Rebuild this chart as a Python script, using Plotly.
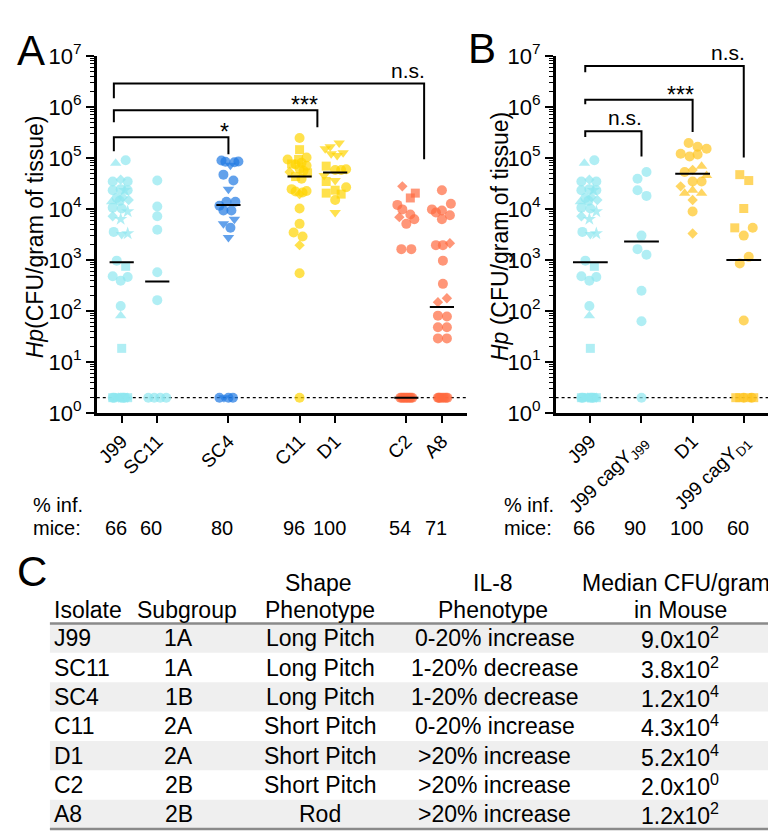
import math
import plotly.graph_objects as go

W, H = 776, 836
FONT = "Liberation Sans, Arial, sans-serif"

CYAN = "#8FE7EF"
BLUE = "#2079E3"
YEL = "#FFD400"
RED = "#FF6A3F"
GOLD = "#FFC41F"

# ---------------- Panel A data ----------------
catsA = ["J99", "SC11", "SC4", "C11", "D1", "C2", "A8"]
slotsA = [0, 1, 3, 5, 6, 8, 9]
medianA = [900, 380, 12000, 43000, 52000, 2, 120]
infA = [66, 60, 80, 96, 100, 54, 71]

j99_vals = [79000, 90000, 34500, 37500, 34500, 23300, 24400, 23300, 23300, 16400,
            17000, 13800, 15000, 14400, 10600, 10200, 8900, 7200, 6300, 3550,
            3150, 3300, 970, 750, 480, 390, 465, 125, 81, 18.5] + [2] * 15
j99_sym = list("tccdcccsc" "cdtdccc" "sdscvs" "cqcccctq" "ctdtcqctdctqcdt")
j99_jit = [-0.6, 0.4, -0.9, -0.1, 0.6, -0.9, -0.1, 0.3, 0.6, -0.5, 0.1, -1.0, 0.7, -0.2,
           -0.9, 0.0, 0.6, -0.9, -0.1, -0.8, 0.0, 0.6, -0.5, 0.4, -0.9, -0.1, 0.6, -0.1,
           -0.1, 0.0,
           -0.9, -0.6, -0.3, 0.0, 0.3, 0.6, -0.75, -0.45, -0.15, 0.15, 0.45, -0.9, 0.0, 0.6, -0.3]

sc11_vals = [36000, 11200, 7200, 3900, 575, 163, 2, 2, 2, 2]
sc11_sym = list("cccccccccc")
sc11_jit = [0, 0, 0, 0, 0, 0, -0.9, -0.3, 0.3, 0.9]

sc4_vals = [89000, 84000, 72000, 82000, 85000, 47000, 36000, 24400, 13800, 13800, 11500,
            9300, 9300, 6300, 5100, 4260, 2760, 2, 2, 2, 2, 2]
sc4_sym = list("ccvcccc" "vccccc" "vvc" "vcvcc")
sc4_jit = [-0.7, -0.3, 0.2, 0.6, 1.0, -0.5, 0.5, 0.0, -0.2, 0.7, -0.9, -0.5, 0.3, 0.6,
           -0.5, 0.2, 0.0, -0.9, -0.45, 0.0, 0.45, 0.9]

c11_vals = [245000, 145000, 93000, 102000, 93000, 76000, 74000, 80000, 70000, 61000,
            53000, 51000, 56000, 43000, 39000, 24400, 22000, 19500, 21000, 22500,
            10200, 5100, 3450, 2880, 1950, 550, 2]
c11_sym = list("cqccq" "qccc" "cdqc" "qc" "ccdcc" "ccccd" "cc")
c11_jit = [0.0, 0.0, -1.2, 0.7, -0.1, -0.8, -0.4, 0.2, 0.7, 0.0, -1.0, 0.8, 0.4, -0.4,
           0.2, -0.8, -0.4, 0.0, 0.3, 0.7, 0.0, 0.0, -0.6, 0.3, 0.0, 0.0, 0.0]

d1_vals = [196000, 151000, 165000, 121000, 112000, 126000, 69000, 45000, 58000, 58000,
           60000, 34500, 36000, 26500, 20400, 23300, 19500, 15000, 8500]
d1_sym = list("vvvvvv" "qvccc" "qvc" "qqq" "cv")
d1_jit = [0.4, -1.0, -0.5, -0.4, 0.2, 0.8, -0.9, -1.1, 0.0, 0.6, 1.1, -0.9, 0.0, 1.1,
          -0.9, 0.0, 0.6, 0.0, 0.0]

c2_vals = [27700, 16400, 20400, 12000, 9800, 6900, 7800, 6300, 5100, 1630, 1630] + [2] * 9
c2_sym = list("dqqccdcccc" "c" "ccccccccc")
c2_jit = [-0.4, 0.4, 0.9, -0.9, -0.4, -0.7, 0.4, 0.8, 0.0, -0.5, 0.5,
          -0.6, -0.45, -0.3, -0.15, 0.0, 0.15, 0.3, 0.45, 0.6]

a8_vals = [23300, 9800, 12600, 8500, 9300, 7500, 6300, 1950, 1950, 2130, 970, 340, 149,
           178, 81, 78, 48, 48, 29, 29] + [2] * 7
a8_sym = list("ccccccc" "ccd" "cc" "dd" "cccccc" "ccccccc")
a8_jit = [0.0, -1.0, 0.9, -0.6, 0.0, 0.8, 0.0, -0.6, 0.1, 0.8, 0.1, 0.1, -0.4, 0.5,
          -0.4, 0.5, -0.4, 0.5, -0.4, 0.5,
          -0.4, -0.2, 0.0, 0.2, 0.4, 0.55, -0.3]

# ---------------- Panel B data ----------------
catsB = ["J99", "J99 cagY<sub>J99</sub>", "D1", "J99 cagY<sub>D1</sub>"]
slotsB = [0, 1, 2, 3]
medianB = [900, 2300, 49000, 1000]
infB = [66, 90, 100, 60]

cj_vals = [53000, 39000, 23300, 18000, 3000, 1630, 1260, 250, 63, 2]
cj_sym = list("cccccccccc")
cj_jit = [0.5, -0.4, -0.4, 0.5, 0.0, -0.4, 0.5, 0.0, 0.0, 0.0]

d1b_vals = [196000, 121000, 107000, 165000, 151000, 117000, 69000, 58000, 53000, 45000,
            34500, 34500, 27700, 23300, 20400, 20400, 15000, 8900, 3300]
d1b_sym = list("cccccc" "tdct" "cc" "dttt" "dcd")
d1b_jit = [-0.4, -1.2, -0.3, 0.5, 1.4, 0.5, 0.9, 0.0, -0.8, 1.4, 0.0, 0.9, -1.2, 0.0,
           -0.8, 0.9, 0.0, 0.0, 0.0]

cd_vals = [47000, 36000, 10200, 4260, 4260, 3000, 1150, 850, 65, 2, 2, 2, 2, 2, 2]
cd_sym = list("qqqqc" "cccc" "qqcqcq")
cd_jit = [-0.4, 0.5, 0.0, -0.9, 0.9, 0.0, 0.5, -0.4, 0.0, -0.8, -0.4, 0.0, 0.4, 0.8, 1.0]

LIMIT = 2

# brackets: (x_left, x_right, log_top, log_left_end, log_right_end, label)
bracketsA = [(-0.22, 3.0, 5.405, 5.13, 5.07, "*"),
             (-0.22, 5.5, 5.935, 5.70, 5.60, "***"),
             (-0.22, 8.5, 6.457, 6.17, 4.975, "n.s.")]
bracketsB = [(-0.1, 1.0, 5.524, 5.41, 5.03, "n.s."),
             (-0.1, 2.0, 6.14, 6.05, 5.51, "***"),
             (-0.1, 3.0, 6.80, 6.68, 5.01, "n.s.")]

# ---------------- Panel C table ----------------
t_isolate = ["J99", "SC11", "SC4", "C11", "D1", "C2", "A8"]
t_subgroup = ["1A", "1A", "1B", "2A", "2A", "2B", "2B"]
t_shape = ["Long Pitch", "Long Pitch", "Long Pitch", "Short Pitch", "Short Pitch",
           "Short Pitch", "Rod"]
t_il8 = ["0-20% increase", "1-20% decrease", "1-20% decrease", "0-20% increase",
         ">20% increase", ">20% increase", ">20% increase"]
t_median = [900, 380, 12000, 43000, 52000, 2, 120]

# ================= layout helpers =================
def PX(x):
    return x / W


def PY(y):
    return 1 - y / H


A_L, A_R = 87, 458
B_L, B_R = 547, 770
Y_T, Y_B = 33, 403
xrA = [-0.7, 9.7]
xrB = [-0.68, 3.67]
ppuA = (A_R - A_L) / (xrA[1] - xrA[0])
ppuB = (B_R - B_L) / (xrB[1] - xrB[0])
JIT_PX = 10.0

SYM = {"c": "circle", "q": "square", "t": "triangle-up", "v": "triangle-down",
       "d": "diamond", "s": "star"}
SIZE = {"c": 10, "q": 9, "t": 10, "v": 10, "d": 8, "s": 10}

fig = go.Figure()


def add_group(xax, yax, slot, vals, syms, jits, color, ppu):
    xs = [slot + j * JIT_PX / ppu for j in jits]
    fig.add_trace(go.Scatter(
        x=xs, y=vals, mode="markers", xaxis=xax, yaxis=yax, cliponaxis=False,
        marker=dict(symbol=[SYM[s] for s in syms], size=[SIZE[s] for s in syms],
                    color=color, line=dict(width=0)),
        hoverinfo="skip"))


def add_line(xax, yax, xs, ys, width=2, dash="solid"):
    fig.add_trace(go.Scatter(x=xs, y=ys, mode="lines", xaxis=xax, yaxis=yax,
                             cliponaxis=False,
                             line=dict(color="black", width=width, dash=dash),
                             hoverinfo="skip"))


# detection limit lines
add_line("x", "y", xrA, [LIMIT, LIMIT], width=1.3, dash="dot")
add_line("x2", "y2", xrB, [LIMIT, LIMIT], width=1.3, dash="dot")

groupsA = [(j99_vals, j99_sym, j99_jit, CYAN), (sc11_vals, sc11_sym, sc11_jit, CYAN),
           (sc4_vals, sc4_sym, sc4_jit, BLUE), (c11_vals, c11_sym, c11_jit, YEL),
           (d1_vals, d1_sym, d1_jit, YEL), (c2_vals, c2_sym, c2_jit, RED),
           (a8_vals, a8_sym, a8_jit, RED)]
for slot, (v, s, j, col) in zip(slotsA, groupsA):
    add_group("x", "y", slot, v, s, j, col, ppuA)

groupsB = [(j99_vals, j99_sym, j99_jit, CYAN), (cj_vals, cj_sym, cj_jit, CYAN),
           (d1b_vals, d1b_sym, d1b_jit, GOLD), (cd_vals, cd_sym, cd_jit, GOLD)]
for slot, (v, s, j, col) in zip(slotsB, groupsB):
    add_group("x2", "y2", slot, v, s, j, col, ppuB)

MED_HALF = 0.34
for slot, m in zip(slotsA, medianA):
    add_line("x", "y", [slot - MED_HALF, slot + MED_HALF], [m, m], width=2)
for slot, m in zip(slotsB, medianB):
    add_line("x2", "y2", [slot - MED_HALF, slot + MED_HALF], [m, m], width=2)

annotations = []


def add_brackets(brs, xax, yax):
    for xl, xr, yt, yl, yr, lab in brs:
        add_line(xax, yax, [xl, xl, xr, xr],
                 [10 ** yl, 10 ** yt, 10 ** yt, 10 ** yr], width=2)
        star = lab.startswith("*")
        annotations.append(dict(
            x=xr, y=yt, xref=xax, yref=yax, text=lab, showarrow=False,
            xanchor="right", yanchor="bottom", xshift=3,
            yshift=-10 if star else 0,
            font=dict(size=23 if star else 21, family=FONT, color="black")))


add_brackets(bracketsA, "x", "y")
add_brackets(bracketsB, "x2", "y2")

# axis titles
for xc, txt in [(25, "<i>Hp</i>(CFU/gram of tissue)"),
                (492, "<i>Hp</i> (CFU/gram of tissue)")]:
    annotations.append(dict(x=PX(xc), y=PY(220), xref="paper", yref="paper",
                            text=txt, textangle=-90, showarrow=False,
                            xanchor="center", yanchor="middle",
                            font=dict(size=23, family=FONT, color="black")))

# panel letters
for lx, ly, t in [(21, 27, "A"), (473, 25, "B"), (22, 567, "C")]:
    annotations.append(dict(x=PX(lx), y=PY(ly), xref="paper", yref="paper", text=t,
                            showarrow=False, xanchor="center", yanchor="middle",
                            font=dict(size=42, family=FONT, color="black")))

# % infected rows
for lx in [21, 493]:
    annotations.append(dict(x=PX(lx), y=PY(498), xref="paper", yref="paper",
                            text="% inf.", showarrow=False, xanchor="left",
                            yanchor="middle", font=dict(size=20, family=FONT, color="black")))
    annotations.append(dict(x=PX(lx), y=PY(522), xref="paper", yref="paper",
                            text="mice:", showarrow=False, xanchor="left",
                            yanchor="middle", font=dict(size=20, family=FONT, color="black")))
for xax, slots, infs in [("x", slotsA, infA), ("x2", slotsB, infB)]:
    for s, v in zip(slots, infs):
        annotations.append(dict(x=s, y=PY(522), xref=xax, yref="paper", text=str(v),
                                showarrow=False, xanchor="center", yanchor="middle",
                                xshift=-6,
                                font=dict(size=20, family=FONT, color="black")))

# ---------------- table ----------------
shapes = []
T_TOP, T_BOT, T_L, T_R = 621, 834, 40, 772
row_h = (T_BOT - T_TOP) / len(t_isolate)
for i in range(len(t_isolate)):
    if i % 2 == 0:
        shapes.append(dict(type="rect", xref="paper", yref="paper",
                           x0=PX(T_L), x1=PX(T_R), y0=PY(T_TOP + i * row_h),
                           y1=PY(T_TOP + (i + 1) * row_h),
                           fillcolor="#EFEFEF", line=dict(width=0), layer="below"))
for yy in [T_TOP, T_BOT]:
    shapes.append(dict(type="line", xref="paper", yref="paper", x0=PX(T_L), x1=PX(T_R),
                       y0=PY(yy), y1=PY(yy), line=dict(color="#8A8A8A", width=2.5)))

TF = 23


def tab_text(x, y, txt, anchor="center"):
    annotations.append(dict(x=PX(x), y=PY(y), xref="paper", yref="paper", text=txt,
                            showarrow=False, xanchor=anchor, yanchor="middle",
                            font=dict(size=TF, family=FONT, color="black")))


tab_text(42, 607, "Isolate", "left")
tab_text(177, 607, "Subgroup")
tab_text(309, 579, "Shape")
tab_text(311, 607, "Phenotype")
tab_text(484, 579, "IL-8")
tab_text(484, 607, "Phenotype")
tab_text(668, 579, "Median CFU/gram")
tab_text(672, 607, "in Mouse")


def sci(v):
    e = int(math.floor(math.log10(v)))
    m = v / 10 ** e
    return f"{m:.1f}x10<sup>{e}</sup>"


for i in range(len(t_isolate)):
    yc = T_TOP + (i + 0.5) * row_h
    tab_text(42, yc, t_isolate[i], "left")
    tab_text(169, yc, t_subgroup[i])
    tab_text(311, yc, t_shape[i])
    tab_text(486, yc, t_il8[i])
    tab_text(672, yc, sci(t_median[i]))

# ---------------- axes ----------------
majors = [10 ** k for k in range(8)]
major_txt = [f"10<sup>{k}</sup>" for k in range(8)]
minors = [m * 10 ** k for k in range(7) for m in range(2, 10)]

yax = dict(type="log", range=[0, 7], domain=[PY(Y_B), PY(Y_T)], tickmode="array",
           tickvals=majors, ticktext=major_txt, ticks="outside", ticklen=8, tickwidth=2,
           tickcolor="black", showline=True, linewidth=2.5, linecolor="black",
           showgrid=False, zeroline=False,
           tickfont=dict(size=22, family=FONT, color="black"),
           minor=dict(tickmode="array", tickvals=minors, ticks="outside", ticklen=4,
                      tickwidth=1.2, tickcolor="black", showgrid=False))
xbase = dict(tickmode="array", tickangle=-45, ticks="outside", ticklen=7, tickwidth=2,
             tickcolor="black", showline=True, linewidth=2.5, linecolor="black",
             showgrid=False, zeroline=False,
             tickfont=dict(size=19, family=FONT, color="black"))

fig.update_layout(
    width=W, height=H, margin=dict(l=0, r=0, t=0, b=0),
    paper_bgcolor="white", plot_bgcolor="white", showlegend=False,
    font=dict(family=FONT, color="black"),
    xaxis=dict(xbase, domain=[PX(A_L), PX(A_R)], range=xrA, tickvals=slotsA,
               ticktext=catsA, anchor="y"),
    yaxis=dict(yax, anchor="x"),
    xaxis2=dict(xbase, domain=[PX(B_L), PX(B_R)], range=xrB, tickvals=slotsB,
                ticktext=catsB, anchor="y2"),
    yaxis2=dict(yax, anchor="x2"),
    annotations=annotations, shapes=shapes)

fig.write_html("out.html")
